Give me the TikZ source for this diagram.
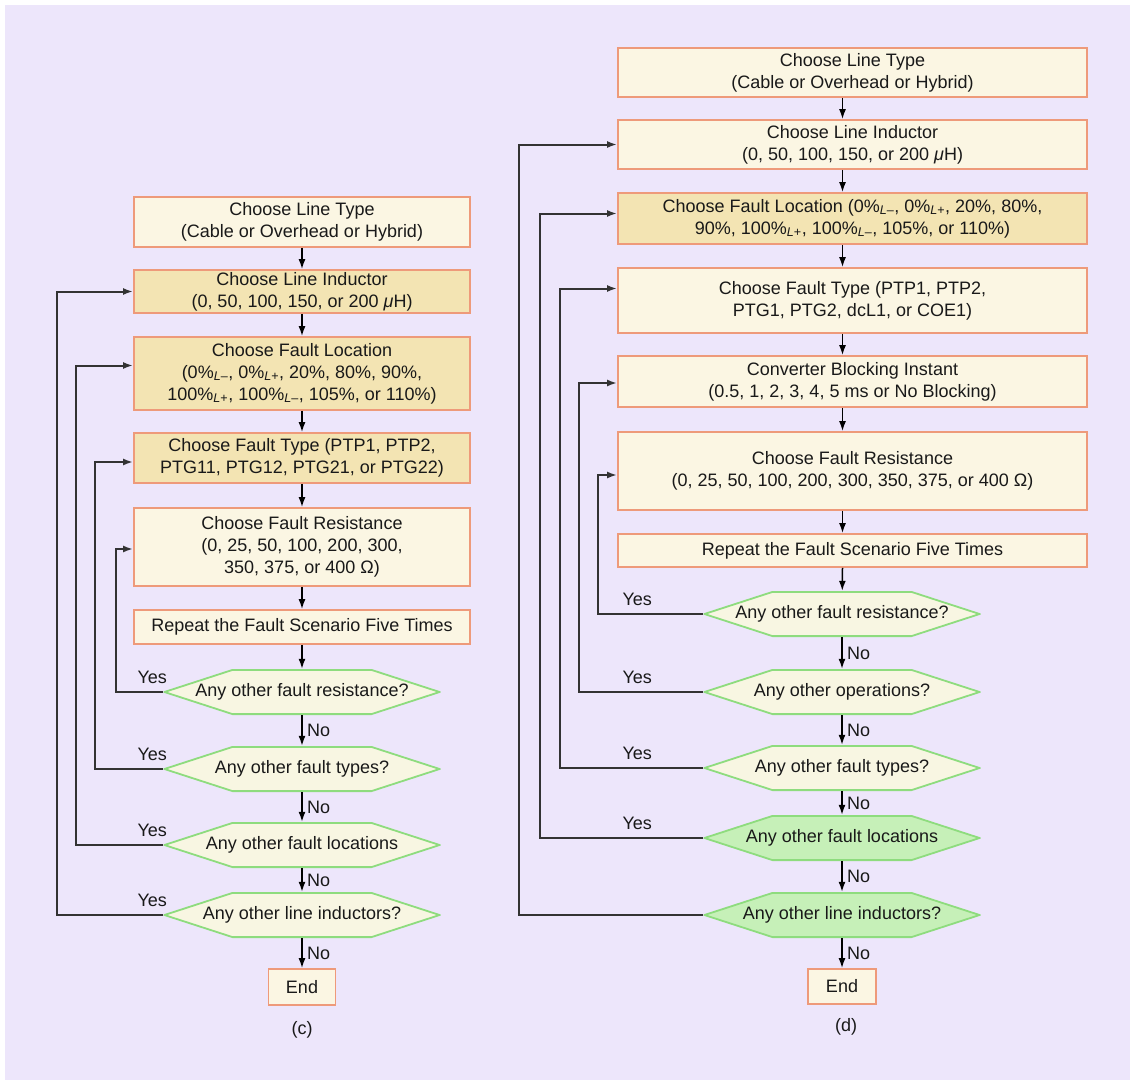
\documentclass[tikz,border=0pt]{standalone}
\usepackage{fontspec}
\setmainfont{Liberation Sans}
\usetikzlibrary{arrows.meta}
\definecolor{bgpurple}{HTML}{EDE6FB}
\definecolor{boxcream}{HTML}{FBF6E3}
\definecolor{boxtan}{HTML}{F3E4B3}
\definecolor{boxline}{HTML}{EE9A7A}
\definecolor{hexline}{HTML}{8EDC7E}
\definecolor{hexcream}{HTML}{F8F6E2}
\definecolor{hexgreen}{HTML}{C6F0B8}
\definecolor{linegray}{HTML}{333333}
\newcommand{\Lm}{\textsubscript{\textit{L}–}}
\newcommand{\Lp}{\textsubscript{\textit{L}+}}

\begin{document}
\begin{tikzpicture}[x=1pt, y=-1pt,
    every node/.style={font=\fontsize{18}{22}\selectfont, text=black!90},
    procbox/.style={draw=boxline, line width=1.8pt, fill=boxcream, align=center, inner sep=2pt},
    tanbox/.style={procbox, fill=boxtan},
    decision/.style={rectangle, minimum width=277pt, minimum height=46pt, inner sep=1pt,
      path picture={\path[draw=hexline, line width=1.8pt, fill=#1]
        ([xshift=0.9pt]path picture bounding box.west)
        -- ([xshift=69pt,yshift=-0.9pt]path picture bounding box.north west)
        -- ([xshift=-69pt,yshift=-0.9pt]path picture bounding box.north east)
        -- ([xshift=-0.9pt]path picture bounding box.east)
        -- ([xshift=-69pt,yshift=0.9pt]path picture bounding box.south east)
        -- ([xshift=69pt,yshift=0.9pt]path picture bounding box.south west) -- cycle;}},
    decision/.default=hexcream,
    flow/.style={-{Latex[length=10pt,width=7pt]}, line width=1.5pt},
    back/.style={flow, draw=linegray, line width=2pt},
    yesc/.style={anchor=south east, xshift=8pt, yshift=4pt},
    yesd/.style={anchor=south east, xshift=-47pt, yshift=4pt},
    nolab/.style={right, xshift=1pt}]
    \useasboundingbox (0,0) rectangle (1130,1080);
    \fill[bgpurple] (5,5) rectangle (1130,1080);

    % (c)
    \node[procbox, minimum width=336pt, minimum height=50pt] (lt) at (302,222) {Choose Line Type\\(Cable or Overhead or Hybrid)};
    \node[tanbox, minimum width=336pt, minimum height=43pt] (li) at (302,291.5) {Choose Line Inductor\\(0, 50, 100, 150, or 200 \textit{μ}H)};
    \node[tanbox, minimum width=336pt, minimum height=73pt] (fl) at (302,373.5) {Choose Fault Location\\(0\%\Lm, 0\%\Lp, 20\%, 80\%, 90\%,\\100\%\Lp, 100\%\Lm, 105\%, or 110\%)};
    \node[tanbox, minimum width=336pt, minimum height=50pt] (ft) at (302,458) {Choose Fault Type (PTP1, PTP2,\\PTG11, PTG12, PTG21, or PTG22)};
    \node[procbox, minimum width=336pt, minimum height=78pt] (fr) at (302,547) {Choose Fault Resistance\\(0, 25, 50, 100, 200, 300,\\350, 375, or 400 Ω)};
    \node[procbox, minimum width=336pt, minimum height=34pt] (rp) at (302,627) {Repeat the Fault Scenario Five Times};
    \node[decision] (h1) at (302,692) {Any other fault resistance?};
    \node[decision] (h2) at (302,769) {Any other fault types?};
    \node[decision] (h3) at (302,845) {Any other fault locations};
    \node[decision] (h4) at (302,915) {Any other line inductors?};
    \node[procbox, minimum width=67pt, minimum height=36pt] (en) at (302,987) {End};
    \node (capc) at (302,1030) {(c)};

    \draw[flow] (lt) -- (li);
    \draw[flow] (li) -- (fl);
    \draw[flow] (fl) -- (ft);
    \draw[flow] (ft) -- (fr);
    \draw[flow] (fr) -- (rp);
    \draw[flow] (rp) -- (h1);
    \draw[flow] (h1) -- node[nolab]{No} (h2);
    \draw[flow] (h2) -- node[nolab]{No} (h3);
    \draw[flow] (h3) -- node[nolab]{No} (h4);
    \draw[flow] (h4) -- node[nolab]{No} (en);

    \draw[back] (h1.west) node[yesc]{Yes} -- ++(-47,0) |- ([yshift=-2pt]fr.west);
    \draw[back] (h2.west) node[yesc]{Yes} -- ++(-68,0) |- ([yshift=-4pt]ft.west);
    \draw[back] (h3.west) node[yesc]{Yes} -- ++(-87,0) |- ([yshift=8pt]fl.west);
    \draw[back] (h4.west) node[yesc]{Yes} -- ++(-106,0) |- (li.west);

    % (d)
    \node[procbox, minimum width=469pt, minimum height=49pt] (dlt) at (852.5,72.5) {Choose Line Type\\(Cable or Overhead or Hybrid)};
    \node[procbox, minimum width=469pt, minimum height=49pt] (dli) at (852.5,144.5) {Choose Line Inductor\\(0, 50, 100, 150, or 200 \textit{μ}H)};
    \node[tanbox, minimum width=469pt, minimum height=51pt] (dfl) at (852.5,218.5) {Choose Fault Location (0\%\Lm, 0\%\Lp, 20\%, 80\%,\\90\%, 100\%\Lp, 100\%\Lm, 105\%, or 110\%)};
    \node[procbox, minimum width=469pt, minimum height=65pt] (dft) at (852.5,300.5) {Choose Fault Type (PTP1, PTP2,\\PTG1, PTG2, dcL1, or COE1)};
    \node[procbox, minimum width=469pt, minimum height=51pt] (dcb) at (852.5,381.5) {Converter Blocking Instant\\(0.5, 1, 2, 3, 4, 5 ms or No Blocking)};
    \node[procbox, minimum width=469pt, minimum height=78pt] (dfr) at (852.5,471) {Choose Fault Resistance\\(0, 25, 50, 100, 200, 300, 350, 375, or 400 Ω)};
    \node[procbox, minimum width=469pt, minimum height=33pt] (drp) at (852.5,550.5) {Repeat the Fault Scenario Five Times};
    \node[decision] (dh1) at (842,614) {Any other fault resistance?};
    \node[decision] (dh2) at (842,692) {Any other operations?};
    \node[decision] (dh3) at (842,768) {Any other fault types?};
    \node[decision=hexgreen] (dh4) at (842,838) {Any other fault locations};
    \node[decision=hexgreen] (dh5) at (842,915) {Any other line inductors?};
    \node[procbox, minimum width=68pt, minimum height=35pt] (den) at (842,986.5) {End};
    \node (capd) at (846,1027) {(d)};

    \draw[flow] ([xshift=-10pt]dlt.south) -- ([xshift=-10pt]dli.north);
    \draw[flow] ([xshift=-10pt]dli.south) -- ([xshift=-10pt]dfl.north);
    \draw[flow] ([xshift=-10pt]dfl.south) -- ([xshift=-10pt]dft.north);
    \draw[flow] ([xshift=-10pt]dft.south) -- ([xshift=-10pt]dcb.north);
    \draw[flow] ([xshift=-10pt]dcb.south) -- ([xshift=-10pt]dfr.north);
    \draw[flow] ([xshift=-10pt]dfr.south) -- ([xshift=-10pt]drp.north);
    \draw[flow] ([xshift=-10pt]drp.south) -- (dh1);
    \draw[flow] (dh1) -- node[nolab]{No} (dh2);
    \draw[flow] (dh2) -- node[nolab]{No} (dh3);
    \draw[flow] (dh3) -- node[nolab]{No} (dh4);
    \draw[flow] (dh4) -- node[nolab]{No} (dh5);
    \draw[flow] (dh5) -- node[nolab]{No} (den);

    \draw[back] (dh1.west) node[yesd]{Yes} -- ++(-105,0) |- ([yshift=-4pt]dfr.west);
    \draw[back] (dh2.west) node[yesd]{Yes} -- ++(-124,0) |- ([yshift=-1.5pt]dcb.west);
    \draw[back] (dh3.west) node[yesd]{Yes} -- ++(-143,0) |- ([yshift=12pt]dft.west);
    \draw[back] (dh4.west) node[yesd]{Yes} -- ++(-163,0) |- ([yshift=5pt]dfl.west);
    \draw[back] (dh5.west) -- ++(-184,0) |- (dli.west);
  \end{tikzpicture}
\end{document}
